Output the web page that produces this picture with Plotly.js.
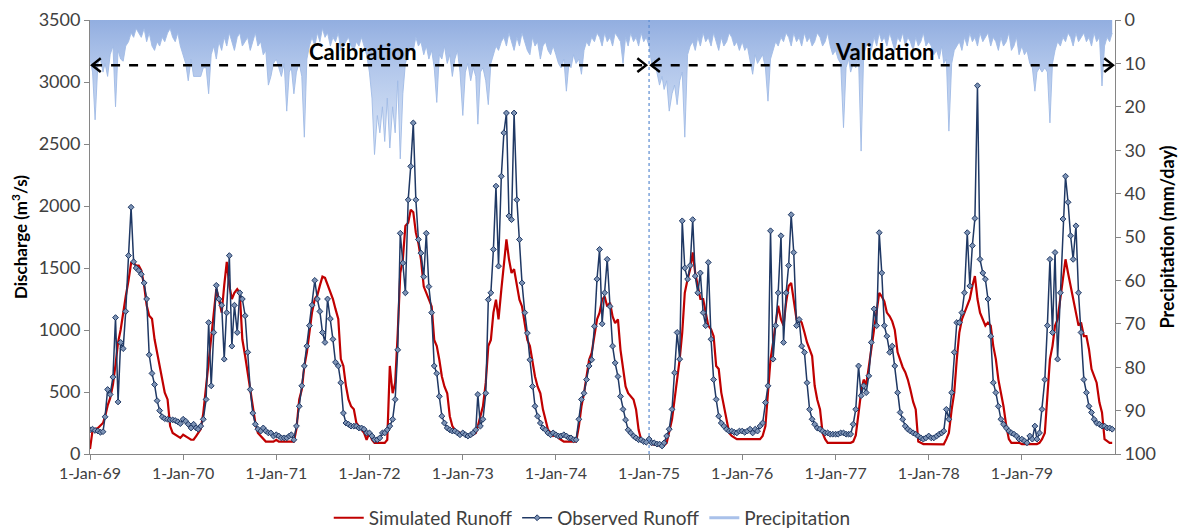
<!DOCTYPE html>
<html>
<head>
<meta charset="utf-8">
<script src="https://cdn.plot.ly/plotly-3.0.1.min.js"></script>
<style>html,body{margin:0;padding:0;background:#fff;}#chart{width:1186px;height:529px;}</style>
</head>
<body>
<div id="chart"></div>
<script>
// Years and dekad days (values are read per dekad: 1st, 11th, 21st of each month)
const years = [1969,1970,1971,1972,1973,1974,1975,1976,1977,1978,1979];
const dekadDays = ["01","11","21"];
const xTickVals = ["1969-01-01","1970-01-01","1971-01-01","1972-01-01","1973-01-01","1974-01-01","1975-01-01","1976-01-01","1977-01-01","1978-01-01","1979-01-01"];
const xTickText = ["1-Jan-69","1-Jan-70","1-Jan-71","1-Jan-72","1-Jan-73","1-Jan-74","1-Jan-75","1-Jan-76","1-Jan-77","1-Jan-78","1-Jan-79"];

// Simulated runoff (m3/s)
const sim1969 = [40,190,200,210,230,250,300,390,450,560,720,900,1000,1150,1270,1400,1540,1540,1520,1520,1480,1360,1200,1115,1090,925,820,710,600,495,440,225,170,155,145,130];
const sim1970 = [155,145,130,115,115,145,170,200,330,550,710,925,1140,1330,1250,1140,1360,1550,1360,1250,1300,1330,1300,925,790,655,500,385,250,170,145,115,100,100,100,100];
const sim1971 = [115,100,100,100,100,100,100,100,200,440,520,710,820,980,1140,1250,1280,1360,1430,1420,1360,1300,1250,1170,1090,765,710,550,440,385,360,250,225,200,170,115];
const sim1972 = [170,115,90,90,90,90,90,115,710,490,575,975,1460,1570,1840,1865,1970,1950,1785,1700,1570,1350,1300,1245,1190,920,870,760,625,545,490,305,225,195,185,170];
const sim1973 = [170,155,145,145,155,170,225,305,385,575,870,920,1140,1245,1085,1325,1515,1730,1570,1460,1490,1350,1245,1190,1030,920,870,735,625,545,490,360,275,195,170,145];
const sim1974 = [155,130,115,100,100,100,100,100,100,225,385,490,625,760,815,975,1085,1140,1245,1270,1190,1220,1110,1055,1085,840,710,545,490,465,440,360,195,115,100,90];
const sim1975 = [120,80,75,70,70,70,70,90,170,280,440,600,765,980,1300,1410,1490,1625,1460,1355,1250,1250,1140,1035,1005,950,710,685,495,385,280,170,145,130,120,120];
const sim1976 = [120,120,120,120,120,120,120,120,145,225,495,765,900,1035,1195,1085,1035,1220,1355,1380,1250,1085,1085,1060,980,900,845,790,550,440,360,170,120,90,90,90];
const sim1977 = [90,90,90,90,90,90,90,100,150,330,500,600,560,700,850,1000,1140,1300,1270,1230,1140,1110,1070,1000,820,760,700,660,600,520,420,360,100,90,80,80];
const sim1978 = [80,80,78,78,78,78,78,120,170,360,495,765,980,1085,1140,1195,1250,1355,1435,1250,1140,1085,1035,1060,1035,870,765,600,495,385,225,120,90,90,90,90];
const sim1979 = [80,80,80,80,80,80,80,90,120,170,495,765,870,1035,1085,1250,1435,1570,1460,1355,1250,1140,1035,1060,950,950,845,685,630,575,415,335,120,105,90,90];

// Observed runoff (m3/s)
const obs1969 = [195,200,190,185,175,180,300,520,480,620,1100,420,900,850,1150,1600,1990,1550,1500,1480,1450,1380,1250,800,650,560,430,350,300,285,280,275,275,270,260,245];
const obs1970 = [280,265,240,210,240,210,200,225,280,440,1060,550,980,1360,1250,1200,765,1140,1600,870,1200,980,1300,1250,1115,820,520,330,240,200,185,210,185,170,170,145];
const obs1971 = [155,145,130,130,130,145,155,115,225,385,550,710,870,1035,1200,1400,1250,1150,980,900,1250,1090,925,740,710,575,330,250,240,225,225,225,210,210,200,170];
const obs1972 = [170,145,115,115,130,170,170,195,225,280,440,840,1780,1540,1300,2050,2320,2670,2050,1730,1620,1430,1780,1350,1140,710,650,465,305,250,210,195,185,185,170,155];
const obs1973 = [170,155,145,155,170,195,480,225,280,490,1245,1300,1650,2160,1515,2240,2590,2750,1920,1890,2750,2050,1730,1380,1140,975,760,545,385,305,250,210,195,170,155,170];
const obs1974 = [155,145,145,155,145,130,130,115,115,280,440,490,600,710,760,1030,1410,1650,1050,1300,1570,1190,870,735,625,465,360,275,195,170,145,130,115,115,100,95];
const obs1975 = [120,90,90,80,80,65,90,145,200,360,655,980,765,1880,1500,1410,1520,1890,1435,1300,1460,1140,1035,1545,925,600,440,305,250,225,200,185,185,175,170,185];
const obs1976 = [185,175,185,200,170,200,185,225,250,415,550,1800,765,1035,1300,1760,900,1300,1520,1930,1625,1035,1085,870,820,575,360,280,240,210,200,185,170,170,160,160];
const obs1977 = [160,160,170,170,160,160,160,240,360,710,470,550,495,630,900,1170,1035,1785,1460,1035,950,820,870,710,495,335,280,225,200,185,170,160,145,130,120,130];
const obs1978 = [145,130,130,145,160,170,185,360,280,495,820,1060,1060,1140,1300,1785,1355,1680,1900,2970,1570,1460,1410,1250,950,575,495,385,280,240,210,185,170,160,145,120];
const obs1979 = [120,105,90,145,120,225,120,170,360,600,1035,1570,980,1625,765,1300,1895,2240,2030,1760,1570,1840,1300,980,600,495,385,335,280,250,240,225,225,210,210,200];

// Precipitation (mm/day)
const pcp1969 = [9,12,23,10,9,12,10,13,8,6,20,7,9,9.5,6,5,3,4,2,3,4,2,5,3,6,7,5,6,4,5,3,2,4,5,3,6];
const pcp1970 = [8,10,14,9,13,13,13,13,11,11,17,8,6,9,5,7,4,6,3,5,7,4,3,6,5,4,7,5,3,6,5,8,7,15,13,10];
const pcp1971 = [9,11,13,10,21,12,11,17,12,10,13,27,9,6,4,6,3,5,2,4,3,6,4,5,3,7,6,5,4,6,7,5,6,4,6,8];
const pcp1972 = [12,18,31,22,26,20,28,18,29.5,20,26,14,32,17,10,8,6,7,4,6,5,8,6,9,7,11,19,8,9,6,10,8,13,9,7,12];
const pcp1973 = [22,12,10,14,11,13,24,12,11,14,19.5,10,8,6,7,5,4,6,3,5,7,4,6,3,5,7,8,4,6,5,9,6,5,7,8,6];
const pcp1974 = [8,10,11,9,16.4,10,11,8,10,9,12.5,7,5,6,4,5,3,4,6,3,5,4,6,3,4,5,10,4,6,3,5,4,6,3,5,4];
const pcp1975 = [6,10,9,12,15,13,16,14,21,17,15,19.5,14,12,27,8,6,5,7,4,6,3,5,4,6,3,5,7,4,6,5,3,4,6,5,7];
const pcp1976 = [5,7,6,9,12.5,8,10,9,8,11,18.7,9,7,5,6,4,5,3,4,6,3,5,4,6,3,5,4,6,5,3,4,6,5,3,6,8];
const pcp1977 = [7,9,10,24.8,11,9,12,10,11,9,30.2,8,6,5,7,4,6,3,5,4,6,3,5,7,4,5,3,6,4,5,7,4,6,5,3,6];
const pcp1978 = [5,6,8,7,9,6,10,9,25.6,10,7,6,5,7,4,6,3,5,4,6,3,5,4,3,6,4,5,7,4,6,5,3,7,6,4,8];
const pcp1979 = [6,8,7,10,11,16.4,12,11,12,11,12,23.7,10,7,5,6,4,5,3,4,6,3,5,4,3,5,4,6,3,5,4,15.2,6,4,5,3];

const simByYear = [sim1969,sim1970,sim1971,sim1972,sim1973,sim1974,sim1975,sim1976,sim1977,sim1978,sim1979];
const obsByYear = [obs1969,obs1970,obs1971,obs1972,obs1973,obs1974,obs1975,obs1976,obs1977,obs1978,obs1979];
const pcpByYear = [pcp1969,pcp1970,pcp1971,pcp1972,pcp1973,pcp1974,pcp1975,pcp1976,pcp1977,pcp1978,pcp1979];

const dates = [], simulated = [], observed = [], precipitation = [];
years.forEach((yr, i) => {
  for (let k = 0; k < 36; k++) {
    const m = Math.floor(k / 3) + 1;
    dates.push(yr + "-" + (m < 10 ? "0" + m : m) + "-" + dekadDays[k % 3]);
    simulated.push(simByYear[i][k]);
    observed.push(obsByYear[i][k]);
    precipitation.push(pcpByYear[i][k]);
  }
});

const FONT = "Lato, 'Open Sans', sans-serif";
const AX = "#868686";

const traces = [
  {
    x: dates, y: precipitation, yaxis: "y2", type: "scatter", mode: "lines",
    name: "Precipitation", showlegend: false, hoverinfo: "skip",
    line: {color: "rgba(160,186,230,0.9)", width: 1},
    fill: "tozeroy",
    fillgradient: {type: "vertical", start: 0, stop: 32,
      colorscale: [[0, "rgba(146,174,224,1)"], [0.35, "rgba(170,193,233,0.9)"], [1, "rgba(205,220,243,0.7)"]]}
  },
  {
    x: dates, y: simulated, type: "scatter", mode: "lines", name: "Simulated Runoff",
    line: {color: "#C00000", width: 2.2}
  },
  {
    x: dates, y: observed, type: "scatter", mode: "lines+markers", name: "Observed Runoff",
    line: {color: "#1F3864", width: 1.5},
    marker: {symbol: "diamond", size: 4.5, color: "#7D93B5", line: {color: "#1F3864", width: 1}}
  },
  {
    x: [null], y: [null], yaxis: "y2", type: "scatter", mode: "lines", name: "Precipitation",
    line: {color: "#A9C1EA", width: 3}
  }
];

const ya = 0.896; // arrow level (paper)
const dashLine = {color: "#000", width: 2.5, dash: "dash"};
const arrowLine = {color: "#000", width: 2.5};
const hw = 0.0085, hh = 0.016;
const layout = {
  width: 1186, height: 529,
  margin: {l: 90, r: 71, t: 20, b: 75, autoexpand: false},
  paper_bgcolor: "#fff", plot_bgcolor: "#fff",
  font: {family: FONT, size: 16, color: "#404040"},
  xaxis: {
    type: "date", range: ["1969-01-01", "1980-01-01"],
    tickmode: "array", tickvals: xTickVals, ticktext: xTickText,
    showgrid: false, zeroline: false, showline: true, linecolor: AX, linewidth: 1,
    ticks: "outside", ticklen: 5, tickcolor: AX,
    tickfont: {family: FONT, size: 16, color: "#404040"}
  },
  yaxis: {
    range: [0, 3500], dtick: 500, tick0: 0,
    showgrid: false, zeroline: false, showline: true, linecolor: AX, linewidth: 1,
    ticks: "outside", ticklen: 5, tickcolor: AX,
    tickfont: {family: FONT, size: 18, color: "#404040"},
    title: {text: "<b>Discharge (m<sup>3</sup>/s)</b>", font: {family: FONT, size: 17, color: "#000"}, standoff: 6}
  },
  yaxis2: {
    overlaying: "y", side: "right", range: [100, 0], dtick: 10, tick0: 0,
    showgrid: false, zeroline: false, showline: true, linecolor: AX, linewidth: 1,
    ticks: "outside", ticklen: 5, tickcolor: AX,
    tickfont: {family: FONT, size: 18, color: "#404040"},
    title: {text: "<b>Precipitation (mm/day)</b>", font: {family: FONT, size: 18, color: "#000"}, standoff: 6}
  },
  legend: {
    orientation: "h", x: 0.49, xanchor: "center", yref: "container", y: 0.021, yanchor: "middle",
    font: {family: FONT, size: 19, color: "#404040"}, itemwidth: 30, traceorder: "normal"
  },
  shapes: [
    {type: "line", xref: "x", yref: "paper", x0: "1975-01-01", x1: "1975-01-01", y0: 0, y1: 1,
     line: {color: "#5B8BD0", width: 1.2, dash: "dot"}},
    {type: "line", xref: "paper", yref: "paper", x0: 0.003, x1: 0.540, y0: ya, y1: ya, line: dashLine},
    {type: "line", xref: "paper", yref: "paper", x0: 0.549, x1: 0.996, y0: ya, y1: ya, line: dashLine},
    {type: "path", xref: "paper", yref: "paper", path: `M ${0.002+hw} ${ya+hh} L 0.002 ${ya} L ${0.002+hw} ${ya-hh}`, line: arrowLine},
    {type: "path", xref: "paper", yref: "paper", path: `M ${0.5425-hw} ${ya+hh} L 0.5425 ${ya} L ${0.5425-hw} ${ya-hh}`, line: arrowLine},
    {type: "path", xref: "paper", yref: "paper", path: `M ${0.5475+hw} ${ya+hh} L 0.5475 ${ya} L ${0.5475+hw} ${ya-hh}`, line: arrowLine},
    {type: "path", xref: "paper", yref: "paper", path: `M ${0.998-hw} ${ya+hh} L 0.998 ${ya} L ${0.998-hw} ${ya-hh}`, line: arrowLine}
  ],
  annotations: [
    {xref: "paper", yref: "paper", x: 0.266, y: 0.927, xanchor: "center", yanchor: "middle",
     text: "<b>Calibration</b>", showarrow: false, font: {family: FONT, size: 22, color: "#000"}},
    {xref: "paper", yref: "paper", x: 0.776, y: 0.927, xanchor: "center", yanchor: "middle",
     text: "<b>Validation</b>", showarrow: false, font: {family: FONT, size: 22, color: "#000"}}
  ]
};

Plotly.newPlot("chart", traces, layout, {displayModeBar: false, staticPlot: true});
</script>
</body>
</html>
